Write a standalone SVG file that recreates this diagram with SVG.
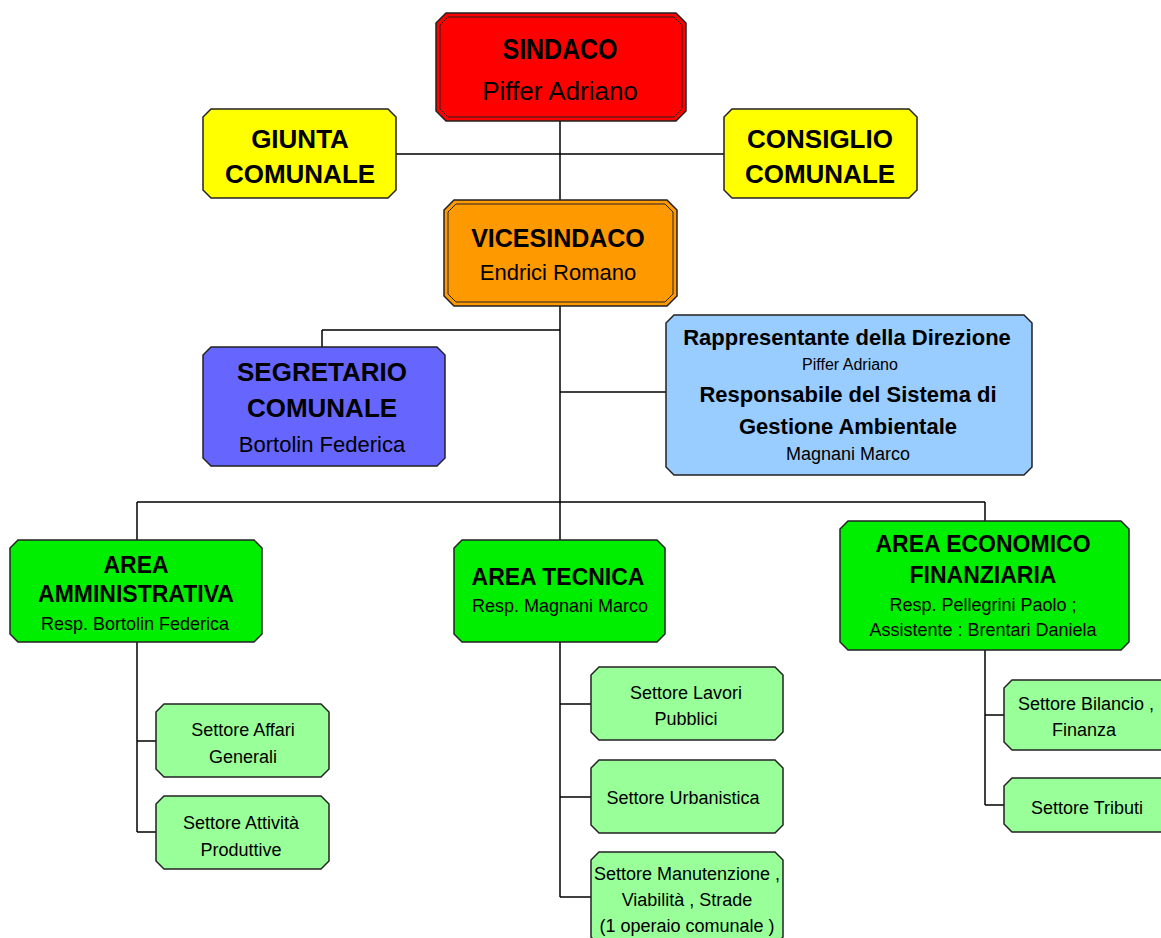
<svg xmlns="http://www.w3.org/2000/svg" width="1161" height="938" viewBox="0 0 1161 938">
<style>
.b{stroke:#222;stroke-width:1.5}
.in{fill:none;stroke:#222;stroke-width:1}
.t{font-family:"Liberation Sans",Arial,sans-serif;text-anchor:middle;fill:#000}
.bd{font-weight:bold}
.s{font-size:18px}
.c line{stroke:#000;stroke-width:1.5}
</style>
<rect width="1161" height="938" fill="#fff"/>
<g class="c" id="connectors">
<line x1="396" y1="154" x2="724" y2="154"/>
<line x1="560" y1="121" x2="560" y2="200"/>
<line x1="560" y1="306" x2="560" y2="502"/>
<line x1="322" y1="330" x2="560" y2="330"/>
<line x1="322" y1="330" x2="322" y2="347"/>
<line x1="560" y1="392" x2="666" y2="392"/>
<line x1="137" y1="502" x2="985" y2="502"/>
<line x1="137" y1="502" x2="137" y2="540"/>
<line x1="560" y1="502" x2="560" y2="540"/>
<line x1="985" y1="502" x2="985" y2="521"/>
<line x1="137" y1="642" x2="137" y2="832"/>
<line x1="137" y1="741" x2="156" y2="741"/>
<line x1="137" y1="832" x2="156" y2="832"/>
<line x1="560" y1="642" x2="560" y2="897"/>
<line x1="560" y1="704" x2="591" y2="704"/>
<line x1="560" y1="797" x2="591" y2="797"/>
<line x1="560" y1="897" x2="591" y2="897"/>
<line x1="985" y1="650" x2="985" y2="805"/>
<line x1="985" y1="715" x2="1004" y2="715"/>
<line x1="985" y1="805" x2="1004" y2="805"/>
</g>
<g id="sindaco">
<polygon class="b" fill="#FF0000" points="446,13 676,13 686,23 686,111 676,121 446,121 436,111 436,23"/>
<polygon class="in" points="448,17 674,17 682,25 682,109 674,117 448,117 440,109 440,25"/>
<text class="t bd" x="560" y="59" font-size="29" textLength="115" lengthAdjust="spacingAndGlyphs">SINDACO</text>
<text class="t" x="560" y="100" font-size="26">Piffer Adriano</text>
</g>
<g id="giunta">
<polygon class="b" fill="#FFFF00" points="211,109 388,109 396,117 396,190 388,198 211,198 203,190 203,117"/>
<text class="t bd" x="300" y="148" font-size="26">GIUNTA</text>
<text class="t bd" x="300" y="183" font-size="26">COMUNALE</text>
</g>
<g id="consiglio">
<polygon class="b" fill="#FFFF00" points="732,109 909,109 917,117 917,190 909,198 732,198 724,190 724,117"/>
<text class="t bd" x="820" y="148" font-size="26">CONSIGLIO</text>
<text class="t bd" x="820" y="183" font-size="26">COMUNALE</text>
</g>
<g id="vicesindaco">
<polygon class="b" fill="#FF9900" points="454,200 667,200 677,210 677,296 667,306 454,306 444,296 444,210"/>
<polygon class="in" points="456,204 665,204 673,212 673,294 665,302 456,302 448,294 448,212"/>
<text class="t bd" x="558" y="247" font-size="25">VICESINDACO</text>
<text class="t" x="558" y="280" font-size="22">Endrici Romano</text>
</g>
<g id="segretario">
<polygon class="b" fill="#6666FF" points="211,347 437,347 445,355 445,458 437,466 211,466 203,458 203,355"/>
<text class="t bd" x="322" y="381" font-size="26">SEGRETARIO</text>
<text class="t bd" x="322" y="417" font-size="26">COMUNALE</text>
<text class="t" x="322" y="452" font-size="22">Bortolin Federica</text>
</g>
<g id="rappresentante">
<polygon class="b" fill="#99CCFF" points="674,315 1024,315 1032,323 1032,467 1024,475 674,475 666,467 666,323"/>
<text class="t bd" x="847" y="345" font-size="22">Rappresentante della Direzione</text>
<text class="t" x="850" y="370" font-size="16">Piffer Adriano</text>
<text class="t bd" x="848" y="402" font-size="22">Responsabile del Sistema di</text>
<text class="t bd" x="848" y="434" font-size="22">Gestione Ambientale</text>
<text class="t" x="848" y="460" font-size="18">Magnani Marco</text>
</g>
<g id="area-amministrativa">
<polygon class="b" fill="#00EE00" points="18,540 254,540 262,548 262,634 254,642 18,642 10,634 10,548"/>
<text class="t bd" x="136" y="573" font-size="23">AREA</text>
<text class="t bd" x="136" y="602" font-size="23">AMMINISTRATIVA</text>
<text class="t s" x="135" y="630">Resp. Bortolin Federica</text>
</g>
<g id="area-tecnica">
<polygon class="b" fill="#00EE00" points="462,540 657,540 665,548 665,634 657,642 462,642 454,634 454,548"/>
<text class="t bd" x="558" y="585" font-size="23">AREA TECNICA</text>
<text class="t s" x="560" y="612">Resp. Magnani Marco</text>
</g>
<g id="area-economico">
<polygon class="b" fill="#00EE00" points="848,521 1121,521 1129,529 1129,642 1121,650 848,650 840,642 840,529"/>
<text class="t bd" x="983" y="552" font-size="23">AREA ECONOMICO</text>
<text class="t bd" x="983" y="583" font-size="23">FINANZIARIA</text>
<text class="t s" x="983" y="611">Resp. Pellegrini Paolo ;</text>
<text class="t s" x="983" y="636">Assistente : Brentari Daniela</text>
</g>
<g id="affari-generali">
<polygon class="b" fill="#99FF99" points="164,704 321,704 329,712 329,769 321,777 164,777 156,769 156,712"/>
<text class="t s" x="243" y="736">Settore Affari</text>
<text class="t s" x="243" y="763">Generali</text>
</g>
<g id="attivita-produttive">
<polygon class="b" fill="#99FF99" points="164,796 321,796 329,804 329,861 321,869 164,869 156,861 156,804"/>
<text class="t s" x="241" y="829">Settore Attività</text>
<text class="t s" x="241" y="856">Produttive</text>
</g>
<g id="lavori-pubblici">
<polygon class="b" fill="#99FF99" points="599,667 775,667 783,675 783,732 775,740 599,740 591,732 591,675"/>
<text class="t s" x="686" y="699">Settore Lavori</text>
<text class="t s" x="686" y="725">Pubblici</text>
</g>
<g id="urbanistica">
<polygon class="b" fill="#99FF99" points="599,760 775,760 783,768 783,825 775,833 599,833 591,825 591,768"/>
<text class="t s" x="683" y="804">Settore Urbanistica</text>
</g>
<g id="manutenzione">
<polygon class="b" fill="#99FF99" points="599,852 775,852 783,860 783,937 775,945 599,945 591,937 591,860"/>
<text class="t s" x="687" y="880">Settore Manutenzione ,</text>
<text class="t s" x="687" y="906">Viabilità , Strade</text>
<text class="t s" x="687" y="932">(1 operaio comunale )</text>
</g>
<g id="bilancio">
<polygon class="b" fill="#99FF99" points="1012,680 1170,680 1170,750 1012,750 1004,742 1004,688"/>
<text class="t s" x="1086" y="710">Settore Bilancio ,</text>
<text class="t s" x="1084" y="736">Finanza</text>
</g>
<g id="tributi">
<polygon class="b" fill="#99FF99" points="1012,778 1170,778 1170,832 1012,832 1004,824 1004,786"/>
<text class="t s" x="1087" y="814">Settore Tributi</text>
</g>
</svg>
